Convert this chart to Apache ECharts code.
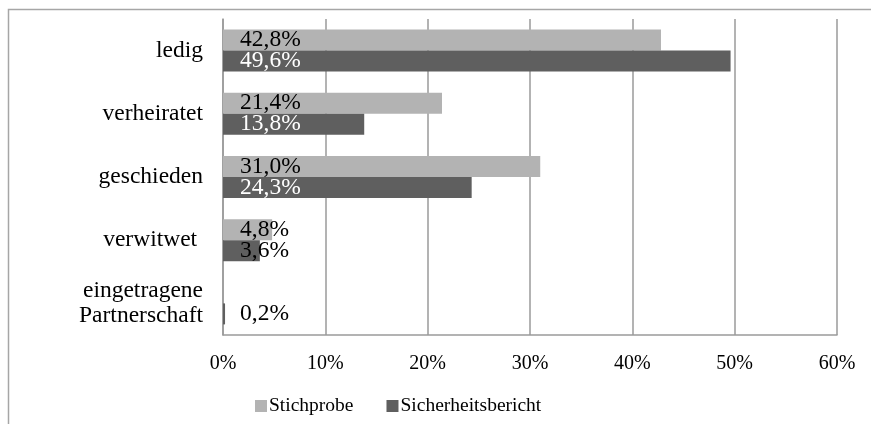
<!DOCTYPE html>
<html><head><meta charset="utf-8">
<script src="https://cdn.jsdelivr.net/npm/echarts@6/dist/echarts.min.js"></script>
<style>html,body{margin:0;padding:0;background:#fff}#c{width:871px;height:424px}</style>
</head><body><div id="c"></div>
<script>
const categories = ['ledig', 'verheiratet', 'geschieden', 'verwitwet ', 'eingetragene\nPartnerschaft'];
const seriesNames = ['Stichprobe', 'Sicherheitsbericht'];
const stichprobe = [42.8, 21.4, 31.0, 4.8, null];
const sicherheitsbericht = [49.6, 13.8, 24.3, 3.6, 0.2];
const darkLabelColors = ['#ffffff', '#ffffff', '#ffffff', '#000000', '#000000'];
const xTicks = [0, 10, 20, 30, 40, 50, 60];

const font = '"Liberation Serif", "Times New Roman", serif';
const fmt = v => v.toFixed(1).replace('.', ',') + '%';

const chart = echarts.init(document.getElementById('c'), null, {renderer: 'canvas'});
chart.setOption({
  animation: false,
  textStyle: {fontFamily: font},
  graphic: [{
    type: 'rect', silent: true, z: -10,
    shape: {x: 8.5, y: 9.5, width: 1000, height: 1000},
    style: {fill: 'none', stroke: '#a6a6a6', lineWidth: 1.5}
  }],
  legend: {
    data: seriesNames,
    left: 250, top: 391,
    itemWidth: 12, itemHeight: 12, itemGap: 33,
    icon: 'rect',
    textStyle: {fontFamily: font, fontSize: 19.5, color: '#000', padding: [0, 0, 0, -3]}
  },
  grid: {left: 223, right: 34, top: 19, bottom: 89, containLabel: false},
  xAxis: {
    type: 'value', min: 0, max: 60, interval: 10,
    axisLine: {show: true, lineStyle: {color: '#9a9a9a', width: 1.5}},
    axisTick: {show: false},
    splitLine: {show: true, lineStyle: {color: '#9a9a9a', width: 1.5}},
    axisLabel: {
      fontFamily: font, fontSize: 20, color: '#000', margin: 19,
      formatter: v => xTicks.includes(v) ? v + '%' : ''
    }
  },
  yAxis: {
    type: 'category', data: categories, inverse: true,
    axisLine: {show: true, lineStyle: {color: '#9a9a9a', width: 1.5}},
    axisTick: {show: false},
    axisLabel: {fontFamily: font, fontSize: 23.5, color: '#000', margin: 20, lineHeight: 25, align: 'right'}
  },
  series: [
    {
      name: seriesNames[0], type: 'bar', data: stichprobe,
      barWidth: 21, barGap: '0%',
      itemStyle: {color: '#b3b3b3'},
      label: {
        show: true, position: 'insideLeft', distance: 17,
        fontFamily: font, fontSize: 23.5, color: '#000',
        formatter: p => p.value == null ? '' : fmt(p.value)
      }
    },
    {
      name: seriesNames[1], type: 'bar', data: sicherheitsbericht.map((v, i) => ({
        value: v, label: {color: darkLabelColors[i]}
      })),
      barWidth: 21, barGap: '0%',
      itemStyle: {color: '#5f5f5f'},
      label: {
        show: true, position: 'insideLeft', distance: 17,
        fontFamily: font, fontSize: 23.5,
        formatter: p => fmt(p.value)
      }
    }
  ]
});
</script></body></html>
